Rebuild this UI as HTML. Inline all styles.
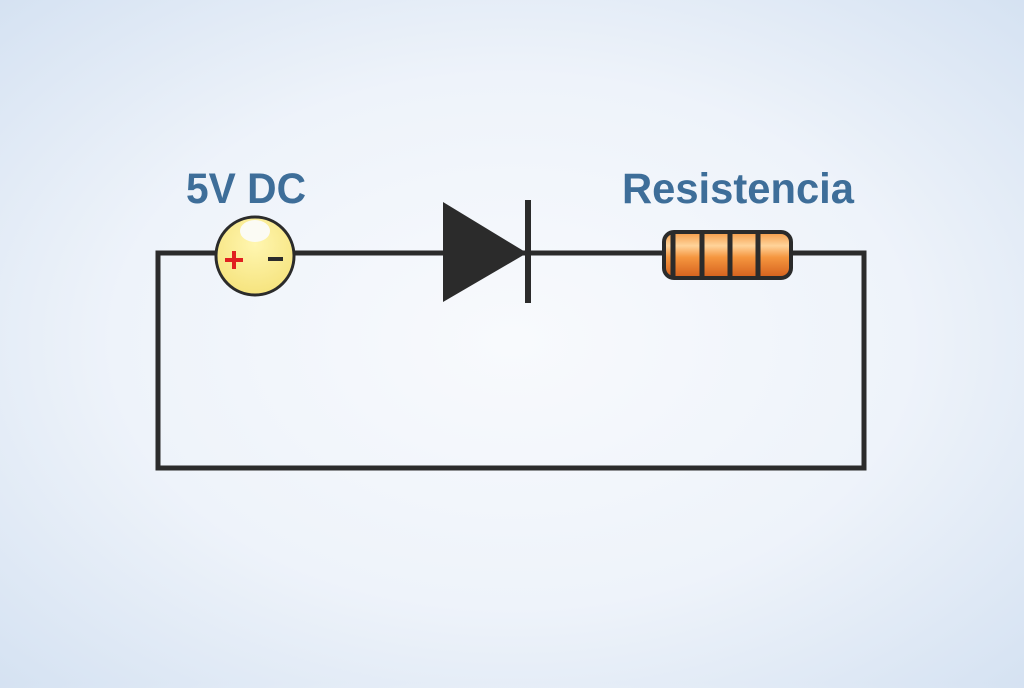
<!DOCTYPE html>
<html><head><meta charset="utf-8"><style>
html,body{margin:0;padding:0;}
body{width:1024px;height:683px;overflow:hidden;background:radial-gradient(ellipse at 50% 50%,#f8fafd 0%,#eef3fa 55%,#d5e2f2 100%);}
</style></head><body>
<svg width="1024" height="683" viewBox="0 0 1024 683" xmlns="http://www.w3.org/2000/svg">
<defs>
<linearGradient id="org" x1="0" y1="0" x2="0" y2="1">
<stop offset="0" stop-color="#f49a45"/><stop offset="0.3" stop-color="#ffd39a"/><stop offset="0.55" stop-color="#f5963f"/><stop offset="1" stop-color="#d45f1c"/>
</linearGradient>
<radialGradient id="yel" cx="0.5" cy="0.35" r="0.7">
<stop offset="0" stop-color="#fff6b0"/><stop offset="1" stop-color="#f5e27a"/>
</radialGradient>
</defs>
<g fill="none" stroke="#2b2b2b" stroke-width="5">
<polyline points="216,253 158,253 158,468 864,468 864,253 792,253"/>
<line x1="294" y1="253" x2="663" y2="253"/>
</g>
<circle cx="255" cy="256" r="39" fill="url(#yel)" stroke="#2b2b2b" stroke-width="3"/>
<ellipse cx="255" cy="231" rx="15" ry="11" fill="#fbfbf4"/>
<path d="M225 260h18M234 251v18" stroke="#e02020" stroke-width="4"/>
<path d="M268 259h15" stroke="#2b2b2b" stroke-width="4"/>
<polygon points="443,202 527,253 443,302" fill="#2b2b2b"/>
<rect x="525" y="200" width="6" height="103" fill="#2b2b2b"/>
<rect x="664" y="232" width="127" height="46" rx="10" fill="url(#org)" stroke="#2b2b2b" stroke-width="4"/>
<g stroke="#2b2b2b" stroke-width="5">
<line x1="673" y1="233" x2="673" y2="277"/><line x1="702" y1="233" x2="702" y2="277"/><line x1="730" y1="233" x2="730" y2="277"/><line x1="758" y1="233" x2="758" y2="277"/>
</g>
<g font-family="Liberation Sans, sans-serif" font-weight="bold" font-size="43" fill="#3e6e99">
<text x="186" y="203" textLength="120" lengthAdjust="spacingAndGlyphs">5V DC</text>
<text x="622" y="203" textLength="232" lengthAdjust="spacingAndGlyphs">Resistencia</text>
</g>
</svg>
</body></html>
